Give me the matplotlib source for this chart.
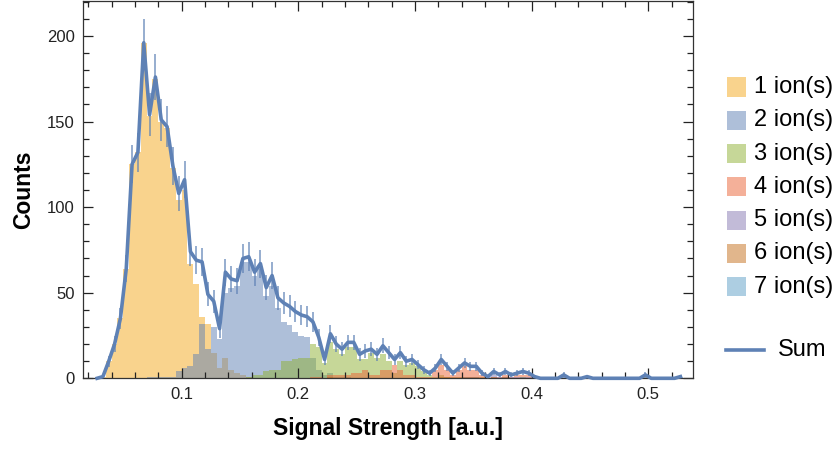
import numpy as np
import matplotlib
matplotlib.use("Agg")
import matplotlib.pyplot as plt
from matplotlib.ticker import MultipleLocator
from matplotlib.patches import Rectangle
from matplotlib.lines import Line2D

plt.rcParams['font.family'] = ['Liberation Sans', 'DejaVu Sans']

# ---- data -------------------------------------------------------------
bin_low = 0.025          # first bin edge
bin_width = 0.005
n_bins = 101

def pad(vals):
    out = list(vals) + [0] * (n_bins - len(vals))
    return np.array(out[:n_bins], dtype=float)

ions_1 = pad([0, 1, 10, 20, 35, 64, 125, 132, 196, 153,
              175, 150, 146, 123, 104, 110, 67, 55, 36, 32,
              15, 6, 12, 5, 3, 2, 1])
ions_2 = pad([0, 0, 0, 0, 0, 0, 0, 0, 0, 1,
              1, 1, 1, 1, 4, 6, 7, 14, 32, 17,
              30, 23, 50, 53, 54, 68, 68, 60, 64, 48,
              54, 41, 33, 31, 27, 25, 24, 12, 5, 2,
              3, 1, 1, 1])
ions_3 = pad([0] * 26 + [1, 2, 2, 4,
              5, 5, 10, 10, 11, 12, 12, 20, 18, 9,
              21, 17, 14, 18, 18, 11, 11, 15, 12, 14,
              10, 3, 10, 8, 9, 7, 4, 2, 1, 2,
              1])
ions_4 = pad([0] * 37 + [1, 1, 0,
              2, 2, 2, 2, 3, 3, 5, 2, 2, 5,
              5, 8, 5, 2, 2, 1, 1, 1, 5, 8,
              5, 2, 5, 7, 5, 5, 2, 0, 1, 1,
              2, 1, 2, 2, 2])
ions_5 = pad([0] * 63 + [1, 1, 1, 0, 1, 2, 1,
              1, 1, 1, 0, 1, 1, 0, 0, 0, 0,
              1])
ions_6 = pad([0] * 40 + [1] + [0] * 18 + [1,
              1, 1, 1, 1, 1, 1, 1, 0, 1, 0,
              1, 0, 0, 1] + [0] * 20 + [1])
ions_7 = pad([0] * 73 + [1] + [0] * 6 + [1, 0, 0, 0, 1] + [0] * 9 + [1] + [0] * 5 + [1])

sum_counts = pad([0, 1, 10, 20, 35, 64, 125, 132, 196, 154,
                  176, 151, 147, 124, 108, 116, 74, 69, 68, 49,
                  45, 29, 62, 58, 57, 70, 71, 62, 67, 53,
                  60, 47, 44, 42, 39, 37, 36, 33, 24, 11,
                  26, 20, 17, 21, 21, 14, 16, 17, 14, 19,
                  15, 11, 15, 10, 11, 8, 5, 3, 6, 11,
                  7, 3, 6, 9, 7, 7, 3, 1, 4, 2,
                  4, 2, 3, 4, 3, 1, 0, 0, 0, 0,
                  2, 0, 0, 0, 1, 0, 0, 0, 0, 0,
                  0, 0, 0, 0, 2, 0, 0, 0, 0, 0,
                  1])

series = [ions_1, ions_2, ions_3, ions_4, ions_5, ions_6, ions_7]
labels = ["1 ion(s)", "2 ion(s)", "3 ion(s)", "4 ion(s)", "5 ion(s)", "6 ion(s)", "7 ion(s)"]
colors = ["#F5A91D", "#5E81B5", "#8FB032", "#EB6235", "#8778B3", "#C56E1A", "#5D9EC7"]
sum_color = "#5E81B5"

edges = bin_low + bin_width * np.arange(n_bins + 1)
centers = 0.5 * (edges[:-1] + edges[1:])

# ---- figure -----------------------------------------------------------
W, H = 839, 450
fig = plt.figure(figsize=(W / 100, H / 100), dpi=100)
ax = fig.add_axes([83 / W, 1 - 378.3 / H, (693 - 83) / W, (378.3 - 1) / H])

for vals, col in zip(series, colors):
    ax.stairs(vals, edges, fill=True, color=col, alpha=0.5, linewidth=0)

# sum line with Poisson error bars
err = np.sqrt(sum_counts)
mask = sum_counts > 0
ax.vlines(centers[mask], (sum_counts - err)[mask], (sum_counts + err)[mask],
          color=sum_color, alpha=0.65, lw=1.4, zorder=4)
ax.plot(centers, sum_counts, color=sum_color, lw=2.6, zorder=5, clip_on=False)

ax.set_xlim(0.01543, 0.5383)
ax.set_ylim(0, 220.4)
ax.set_xticks([0.1, 0.2, 0.3, 0.4, 0.5])
ax.set_xticklabels(["0.1", "0.2", "0.3", "0.4", "0.5"])
ax.xaxis.set_minor_locator(MultipleLocator(0.02))
ax.set_yticks([0, 50, 100, 150, 200])
ax.yaxis.set_minor_locator(MultipleLocator(10))
ax.tick_params(which='both', direction='in', top=True, right=True,
               labelsize=12, labelcolor='#222222', color='#222222', width=0.9)
ax.tick_params(which='major', length=7, pad=6)
ax.tick_params(which='minor', length=4)
for s in ax.spines.values():
    s.set_color('#333333')
    s.set_linewidth(0.9)

fig.text(388 / W, 1 - 428 / H, "Signal Strength [a.u.]", ha='center', va='center',
         fontsize=16.5, fontweight='bold')
fig.text(24 / W, 1 - 190 / H, "Counts", ha='center', va='center',
         rotation=90, fontsize=16.5, fontweight='bold')

# legend
for i, (lab, col) in enumerate(zip(labels, colors)):
    yc = 87 + 33.3 * i
    fig.patches.append(Rectangle((726.7 / W, 1 - (yc + 9.5) / H), 19 / W, 19 / H,
                                 transform=fig.transFigure, facecolor=col,
                                 alpha=0.5, edgecolor='none'))
    fig.text(754 / W, 1 - yc / H, lab, ha='left', va='center', fontsize=17)
ys = 350
fig.lines.append(Line2D([726 / W, 764 / W], [1 - ys / H, 1 - ys / H],
                        transform=fig.transFigure, color=sum_color, lw=2.6))
fig.text(778 / W, 1 - ys / H, "Sum", ha='left', va='center', fontsize=17)

fig.savefig("out.png", dpi=100)
